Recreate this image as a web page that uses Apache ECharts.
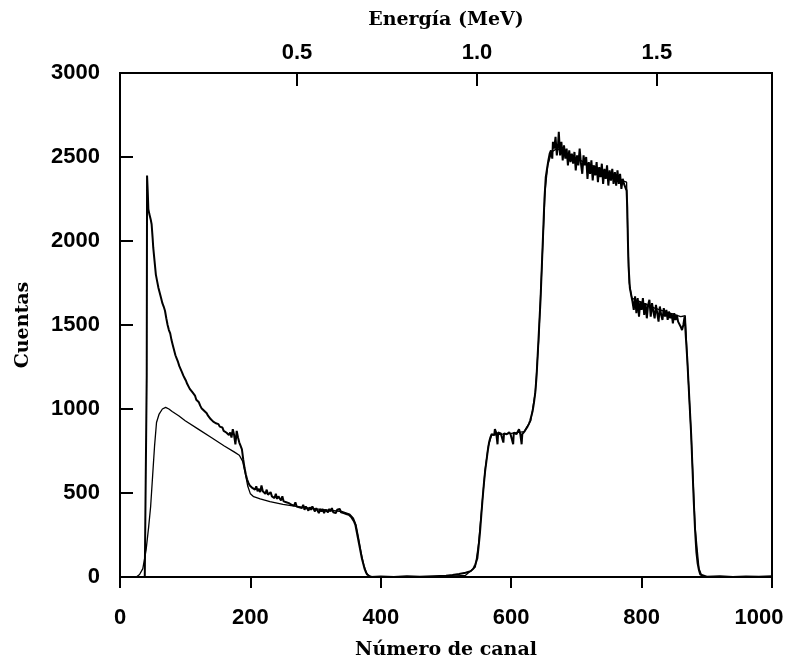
<!DOCTYPE html>
<html>
<head>
<meta charset="utf-8">
<script src="https://cdn.jsdelivr.net/npm/echarts@6/dist/echarts.min.js"></script>
<style>
  html, body { margin: 0; padding: 0; background: #fff; }
  #chart { width: 790px; height: 666px; }
</style>
</head>
<body>
<div id="chart"></div>
<script>
// tick labels
var channelTicks = [0, 200, 400, 600, 800, 1000];
var countTicks = [0, 500, 1000, 1500, 2000, 2500, 3000];
var energyTicks = [0.5, 1.0, 1.5];

// espectro medido: [canal, cuentas]
var measured = [
  [20,0],[38,0],[40,5],[41,1200],[41.5,2390],[42.5,2300],[43.5,2190],[45,2160],[47,2130],[48.5,2100],
  [50,2020],[51,1960],[53,1880],[55,1800],[57,1760],[59,1720],[61,1690],[63,1660],[65,1630],[67,1610],
  [69,1585],[71,1540],[73,1500],[75,1470],[77,1450],[79,1410],[81,1380],[83,1350],[85,1320],[87,1300],
  [89,1280],[91,1255],[93,1245],[95,1220],[97,1200],[99,1185],[101,1170],[103,1150],[105,1140],[107,1120],
  [109,1115],[111,1100],[113,1090],[115,1080],[117,1055],[119,1045],[121,1040],[123,1020],[125,1005],[127,1000],
  [129,990],[131,980],[133,975],[135,960],[137,955],[139,940],[141,945],[143,925],[145,920],[147,915],
  [149,905],[151,910],[153,895],[155,885],[157,890],[159,870],[161,880],[163,860],[165,870],[167,845],
  [169,860],[171,830],[173,880],[175,845],[177,790],[179,870],[181,830],[183,800],[185,780],[187,760],
  [189,700],[191,650],[193,610],[195,580],[197,560],[199,545],[201,540],[203,530],[205,535],[207,520],
  [209,540],[211,510],[213,525],[215,505],[217,545],[219,510],[221,515],[223,495],[225,520],[227,490],
  [229,500],[231,505],[233,480],[235,490],[237,470],[239,495],[241,465],[243,480],[245,470],[247,455],
  [249,480],[251,450],[253,460],[255,445],[257,455],[259,440],[261,450],[263,430],[265,440],[267,425],
  [269,445],[271,420],[273,430],[275,415],[277,425],[279,410],[281,430],[283,400],[285,420],[287,410],
  [289,395],[291,415],[293,400],[295,420],[297,405],[299,390],[301,410],[303,395],[305,380],[307,405],
  [309,390],[311,405],[313,380],[315,400],[317,395],[319,385],[321,405],[323,390],[325,410],[327,385],
  [329,395],[331,380],[333,400],[335,390],[337,405],[339,385],[341,395],[343,380],[345,390],[347,375],
  [349,380],[351,370],[353,365],[355,355],[357,345],[359,330],[361,310],[363,270],[365,230],[367,190],
  [369,150],[371,110],[373,80],[375,50],[377,30],[379,15],[381,5],[385,0],[400,3],[420,0],
  [440,4],[460,2],[480,5],[500,8],[510,12],[520,18],[530,25],[538,35],[542,50],[545,75],
  [548,110],[550,180],[552,260],[554,360],[556,460],[558,550],[560,630],[562,690],[564,750],[566,800],
  [568,830],[570,850],[572,860],[574,845],[575,880],[577,860],[579,790],[580,860],[582,870],[584,855],
  [586,860],[588,800],[589,855],[591,860],[593,850],[595,858],[597,862],[599,850],[601,855],[603,790],
  [604,860],[606,870],[608,850],[610,840],[612,880],[614,850],[616,790],[617,850],[619,860],[621,870],
  [623,880],[625,895],[627,910],[629,930],[631,960],[633,990],[635,1040],[637,1100],[639,1200],[641,1350],
  [643,1500],[645,1650],[647,1850],[649,2050],[651,2250],[653,2380],[655,2430],[657,2480],[659,2520],[661,2540],
  [663,2490],[664,2590],[666,2550],[668,2620],[670,2510],[672,2580],[673,2650],[675,2510],[677,2590],[679,2480],
  [681,2570],[683,2490],[685,2550],[687,2450],[689,2540],[691,2470],[693,2520],[695,2460],[697,2530],[699,2420],
  [701,2510],[703,2450],[705,2550],[707,2460],[709,2400],[711,2510],[713,2450],[715,2500],[717,2370],[719,2470],
  [721,2400],[723,2480],[725,2360],[727,2450],[729,2390],[731,2470],[733,2350],[735,2440],[737,2380],[739,2460],
  [741,2340],[743,2430],[745,2370],[747,2450],[749,2330],[751,2420],[753,2360],[755,2430],[757,2340],[759,2410],
  [761,2330],[763,2420],[765,2340],[767,2400],[769,2310],[771,2370],[773,2340],[775,2350],[777,2300],[778,2200],
  [779,2000],[780,1850],[782,1720],[784,1680],[786,1640],[788,1590],[790,1670],[792,1570],[794,1660],[796,1550],
  [798,1640],[800,1590],[802,1660],[804,1560],[806,1630],[808,1540],[810,1620],[812,1650],[814,1550],[816,1630],
  [818,1580],[820,1540],[822,1620],[824,1570],[826,1520],[828,1610],[830,1560],[832,1530],[834,1600],[836,1550],
  [838,1590],[840,1530],[842,1580],[844,1540],[846,1570],[848,1510],[850,1570],[852,1530],[854,1560],[856,1520],
  [858,1510],[860,1490],[862,1470],[864,1500],[866,1550],[867,1540],[868,1420],[870,1300],[872,1150],[874,1000],
  [876,850],[878,650],[880,450],[882,280],[884,150],[886,80],[888,40],[890,15],[893,5],[900,2],
  [920,4],[940,0],[960,3],[980,2],[1000,4]
];

// curva simulada: [canal, cuentas]
var simulated = [
  [25,0],[30,15],[35,50],[40,160],[44,300],[47,420],[50,600],[53,780],[56,920],[60,970],
  [65,1000],[70,1010],[75,1000],[80,985],[90,960],[100,930],[120,880],[140,830],[160,780],[175,745],
  [183,725],[188,690],[192,620],[196,540],[200,495],[205,478],[215,465],[230,448],[250,432],[270,420],
  [290,410],[300,405],[320,398],[340,390],[352,375],[358,350],[362,310],[366,230],[370,140],[374,70],
  [378,25],[382,5],[390,0],[500,3],[530,10],[545,60],[550,200],[555,420],[560,640],[565,780],
  [570,845],[600,855],[620,865],[630,930],[637,1100],[642,1400],[647,1850],[652,2300],[656,2450],[662,2530],
  [670,2550],[700,2490],[740,2420],[770,2360],[777,2350],[779,2000],[781,1750],[785,1660],[820,1600],[860,1550],
  [867,1555],[870,1300],[876,850],[882,300],[888,50],[893,0],[1000,0]
];

var chart = echarts.init(document.getElementById('chart'));

var labelFont = { color: '#000', fontFamily: 'Liberation Sans', fontWeight: 'bold', fontSize: 22 };
var nameFont = { color: '#000', fontFamily: 'DejaVu Serif', fontWeight: 'bold', fontSize: 19 };
var blackLine = { lineStyle: { color: '#000', width: 2 } };
var plain = function (v) { return String(v); };

chart.setOption({
  animation: false,
  backgroundColor: '#fff',
  grid: {
    left: 120, right: 18, top: 73, bottom: 89,
    outerBoundsMode: 'none', containLabel: false,
    show: true, borderColor: '#000', borderWidth: 2
  },
  xAxis: [
    {
      type: 'value',
      position: 'bottom',
      min: channelTicks[0],
      max: channelTicks[channelTicks.length - 1],
      interval: 200,
      name: 'Número de canal',
      nameLocation: 'middle',
      nameGap: 64,
      nameTextStyle: nameFont,
      axisLine: blackLine,
      axisTick: { show: true, inside: false, length: 11, lineStyle: { color: '#000', width: 2 } },
      axisLabel: Object.assign({
        margin: 30,
        formatter: function (v) {
          // la última etiqueta va algo desplazada a la izquierda
          return v === 1000 ? '{last|' + v + '}' : String(v);
        },
        rich: { last: { fontFamily: 'Liberation Sans', fontWeight: 'bold', fontSize: 22, color: '#000', padding: [0, 26, 0, 0] } }
      }, labelFont),
      splitLine: { show: false }
    },
    {
      type: 'value',
      position: 'top',
      min: 0.008,
      max: 1.82,
      name: 'Energía (MeV)',
      nameLocation: 'middle',
      nameGap: 43,
      nameTextStyle: nameFont,
      axisLine: blackLine,
      axisTick: { show: true, inside: true, length: 13, customValues: energyTicks, lineStyle: { color: '#000', width: 2 } },
      axisLabel: Object.assign({ margin: 9, customValues: energyTicks, formatter: function (v) { return v.toFixed(1); } }, labelFont),
      splitLine: { show: false }
    }
  ],
  yAxis: {
    type: 'value',
    min: countTicks[0],
    max: countTicks[countTicks.length - 1],
    interval: 500,
    name: 'Cuentas',
    nameLocation: 'middle',
    nameGap: 87,
    nameTextStyle: nameFont,
    axisLine: { show: true, lineStyle: { color: '#000', width: 2 } },
    axisTick: { show: true, inside: true, length: 13, lineStyle: { color: '#000', width: 2 } },
    axisLabel: Object.assign({ margin: 20, formatter: plain }, labelFont),
    splitLine: { show: false }
  },
  series: [
    {
      name: 'simulado',
      type: 'line',
      xAxisIndex: 0,
      data: simulated,
      showSymbol: false,
      lineStyle: { color: '#000', width: 1.3 }
    },
    {
      name: 'medido',
      type: 'line',
      xAxisIndex: 0,
      data: measured,
      showSymbol: false,
      lineStyle: { color: '#000', width: 2 }
    }
  ]
});
</script>
</body>
</html>
